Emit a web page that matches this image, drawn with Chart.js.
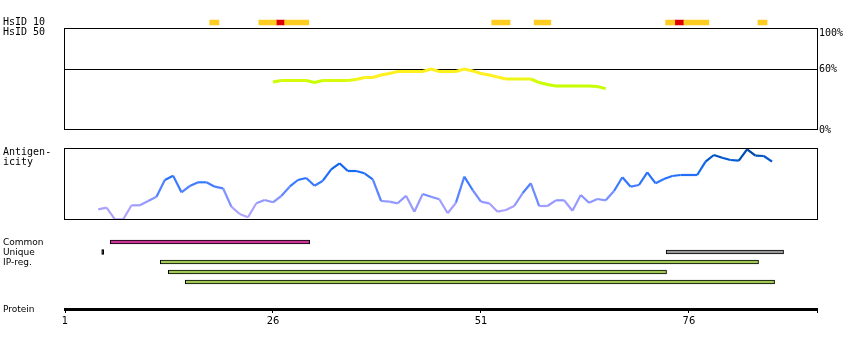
<!DOCTYPE html>
<html>
<head>
<meta charset="utf-8">
<script src="https://cdn.jsdelivr.net/npm/chart.js@4.4.1/dist/chart.umd.min.js"></script>
<style>
html,body{margin:0;padding:0;background:#fff;}
#wrap{position:relative;width:850px;height:350px;overflow:hidden;background:#fff;}
#wrap canvas{position:absolute;left:0;top:0;}
.lbl{position:absolute;left:3px;font-family:"DejaVu Sans Mono",monospace;font-size:10px;line-height:10px;color:#000;white-space:pre;}
.lbl2{position:absolute;left:3px;font-family:"DejaVu Sans",sans-serif;font-size:9px;line-height:10px;color:#000;white-space:pre;}
</style>
</head>
<body>
<div id="wrap">
  <canvas id="cHs" width="850" height="350"></canvas>
  <canvas id="cId" width="850" height="350"></canvas>
  <canvas id="cAg" width="850" height="350"></canvas>
  <canvas id="cRg" width="850" height="350"></canvas>
  <canvas id="cAx" width="850" height="350"></canvas>
  <div class="lbl" style="top:17px">HsID 10</div>
  <div class="lbl" style="top:27px">HsID 50</div>
  <div class="lbl" style="top:147px">Antigen-</div>
  <div class="lbl" style="top:157px">icity</div>
  <div class="lbl2" style="top:237px">Common</div>
  <div class="lbl2" style="top:247px">Unique</div>
  <div class="lbl2" style="top:257px">IP-reg.</div>
  <div class="lbl2" style="top:304px">Protein</div>
</div>
<script>
// ---------- data ----------
const XMIN = 1, XMAX = 91.4;                  // residue range of the protein axis
const axisTicks = [1, 26, 51, 76];
const axisTickLabels = ['1', '26', '51', '76'];
const identityTicks = [0, 60, 100];
const identityTickLabels = ['0%', '60%', '100%'];

const hsidRows = ['HsID 10', 'HsID 50'];
const hsid10Partial = [[18.4,19.5],[24.3,26.4],[27.4,30.3],[52.3,54.5],[57.4,59.4],[73.2,74.3],[75.4,78.4],[84.3,85.4]];
const hsid10Full = [[26.4,27.4],[74.3,75.4]];

const identityResidues = [26,27,28,29,30,31,32,33,34,35,36,37,38,39,40,41,42,43,44,45,46,47,48,49,50,51,52,53,54,55,56,57,58,59,60,61,62,63,64,65,66];
const identityValues   = [47.5,49,49,49,49,47,49,49,49,49,50,52,52,54.5,56,58,58,58,58,60.4,58,58,58,60.4,58.5,56,54.5,52.5,50.5,50.5,50.5,50.5,47,45,43.6,43.6,43.6,43.6,43.6,43,41];

const antigenResidues = [5,6,7,8,9,10,11,12,13,14,15,16,17,18,19,20,21,22,23,24,25,26,27,28,29,30,31,32,33,34,35,36,37,38,39,40,41,42,43,44,45,46,47,48,49,50,51,52,53,54,55,56,57,58,59,60,61,62,63,64,65,66,67,68,69,70,71,72,73,74,75,76,77,78,79,80,81,82,83,84,85,86];
const antigenValues = [10.7,12.3,0.7,0.7,14.7,14.7,19,23.3,40,44.3,27.7,34,37.7,37.7,33.3,31.7,13.3,6,2.7,16.7,20,17.7,24,33.3,40,42,34.3,39.3,50.7,56.7,49,49,46.7,40.7,19,18.3,16.7,24.3,8.3,26,23.3,20.7,6.7,17.3,43.3,30,18.3,16.7,8.3,10,14,26.7,36.7,14,14,19.7,19.7,9.3,25,17.3,21,19.7,29,42.7,33.3,35,47.7,36.7,41,44,45,45,45,58.3,65,62.3,60,59.3,70.7,64.3,64,58.3];

const regionRows = ['Common', 'Unique', 'IP-reg. 1', 'IP-reg. 2', 'IP-reg. 3'];
const commonRegions = [[6.44, 30.41]];
const uniqueMarks = [[5.41, 5.65]];
const uniqueRegions = [[73.27, 87.38]];
const ipRegions = [[12.45, 84.37], [13.42, 73.31], [15.46, 86.3]];

// ---------- helpers ----------
function hexToRgb(h){h=h.replace('#','');return [parseInt(h.substr(0,2),16),parseInt(h.substr(2,2),16),parseInt(h.substr(4,2),16)];}
function ramp(stops, v){
  if (v <= stops[0][0]) return stops[0][1];
  for (let i=1;i<stops.length;i++){
    if (v <= stops[i][0]){
      const t=(v-stops[i-1][0])/(stops[i][0]-stops[i-1][0]);
      const a=hexToRgb(stops[i-1][1]), b=hexToRgb(stops[i][1]);
      return 'rgb('+a.map((c,k)=>Math.round(c+(b[k]-c)*t)).join(',')+')';
    }
  }
  return stops[stops.length-1][1];
}
const identStops = [[48,'#c8ff00'],[51.5,'#fff020']];
const antigenStops = [[0,'#b4a8ff'],[12,'#a8a0ff'],[20,'#8c96ff'],[30,'#5a84ff'],[40,'#2c74ff'],[55,'#0a64ee'],[62,'#0055cc'],[71,'#003f8a']];

const framePlugin = {
  id:'frame',
  afterDraw(chart){
    const {ctx, chartArea:a} = chart;
    ctx.save();
    ctx.strokeStyle='#000'; ctx.lineWidth=1;
    ctx.strokeRect(a.left-0.5, a.top-0.5, a.right-a.left+1, a.bottom-a.top);
    ctx.restore();
  }
};
const common = {responsive:false, animation:false, devicePixelRatio:1,
  plugins:{legend:{display:false}, tooltip:{enabled:false}}};
const xScale = {type:'linear', min:XMIN, max:XMAX, display:false};
const toBars = (arr, row) => arr.map(s => ({x:s, y:row}));

// ---------- HsID rows ----------
new Chart(document.getElementById('cHs'), {
  type:'bar',
  data:{labels:hsidRows, datasets:[
    {data:toBars(hsid10Partial, hsidRows[0]), backgroundColor:'#ffcc22', barThickness:5, grouped:false},
    {data:toBars(hsid10Full, hsidRows[0]), backgroundColor:'#dd0000', barThickness:5, grouped:false}
  ]},
  options:Object.assign({}, common, {
    indexAxis:'y',
    layout:{padding:{left:65, right:33, top:17.5, bottom:350-37.5}},
    scales:{x:xScale, y:{type:'category', display:false}}
  })
});

// ---------- identity panel ----------
new Chart(document.getElementById('cId'), {
  type:'line',
  data:{datasets:[{
    data:identityResidues.map((r,i)=>({x:r, y:identityValues[i]})),
    borderColor:'#fff020', borderWidth:3, pointRadius:0, tension:0,
    segment:{borderColor:c=>ramp(identStops,(c.p0.parsed.y+c.p1.parsed.y)/2)}
  }]},
  options:Object.assign({}, common, {
    layout:{padding:{left:65, right:0, top:29, bottom:220}},
    scales:{
      x:xScale,
      y:{position:'right', min:0, max:100,
        afterFit:s=>{s.width=33;},
        afterBuildTicks:s=>{s.ticks=identityTicks.map(v=>({value:v}));},
        ticks:{callback:(v,i)=> i===identityTicks.length-1 ? ['', identityTickLabels[i]] : identityTickLabels[i],
          color:'#000', padding:2,
          font:{family:'"DejaVu Sans Mono", monospace', size:10, lineHeight:0.8}},
        grid:{drawTicks:false, lineWidth:1, color:c=>(c.tick && c.tick.value===60)?'#000':'rgba(0,0,0,0)'},
        border:{display:false}}
    }
  }),
  plugins:[framePlugin]
});

// ---------- antigenicity panel ----------
new Chart(document.getElementById('cAg'), {
  type:'line',
  data:{datasets:[{
    data:antigenResidues.map((r,i)=>({x:r, y:antigenValues[i]})),
    borderColor:'#2c74ff', borderWidth:2.2, pointRadius:0, tension:0,
    segment:{borderColor:c=>ramp(antigenStops,(c.p0.parsed.y+c.p1.parsed.y)/2)}
  }]},
  options:Object.assign({}, common, {
    layout:{padding:{left:65, right:33, top:149, bottom:130}},
    scales:{x:xScale, y:{min:0, max:71, display:false}}
  }),
  plugins:[framePlugin]
});

// ---------- region bars ----------
const barStyle = {barThickness:4, grouped:false, borderColor:'#000', borderWidth:1, borderSkipped:false};
new Chart(document.getElementById('cRg'), {
  type:'bar',
  data:{labels:regionRows, datasets:[
    Object.assign({data:toBars(commonRegions, regionRows[0]), backgroundColor:'#cc3399'}, barStyle),
    Object.assign({data:toBars(uniqueMarks, regionRows[1]), backgroundColor:'#000'}, barStyle, {barThickness:5}),
    Object.assign({data:toBars(uniqueRegions, regionRows[1]), backgroundColor:'#999999'}, barStyle),
    Object.assign({data:ipRegions.map((s,i)=>({x:s, y:regionRows[2+i]})), backgroundColor:'#9fc855'}, barStyle)
  ]},
  options:Object.assign({}, common, {
    indexAxis:'y',
    layout:{padding:{left:65, right:33, top:237, bottom:63}},
    scales:{x:xScale, y:{type:'category', display:false}}
  })
});

// ---------- protein axis ----------
new Chart(document.getElementById('cAx'), {
  type:'scatter',
  data:{datasets:[{data:[]}]},
  options:Object.assign({}, common, {
    layout:{padding:{left:65, right:33, top:300, bottom:0}},
    scales:{
      x:{type:'linear', position:'bottom', min:XMIN, max:XMAX,
        afterBuildTicks:s=>{s.ticks=axisTicks.map(v=>({value:v})).concat([{value:XMAX}]);},
        afterFit:s=>{s.height=41;},
        ticks:{autoSkip:false, maxRotation:0, color:'#000', padding:2,
          callback:(v,i)=>axisTickLabels[i]||'',
          font:{family:'"Liberation Sans Narrow", "DejaVu Sans Condensed", sans-serif', size:11}},
        grid:{drawOnChartArea:false, color:'#000', tickLength:4, lineWidth:1},
        border:{display:true, color:'#000', width:3}},
      y:{display:false}
    }
  })
});
</script>
</body>
</html>
